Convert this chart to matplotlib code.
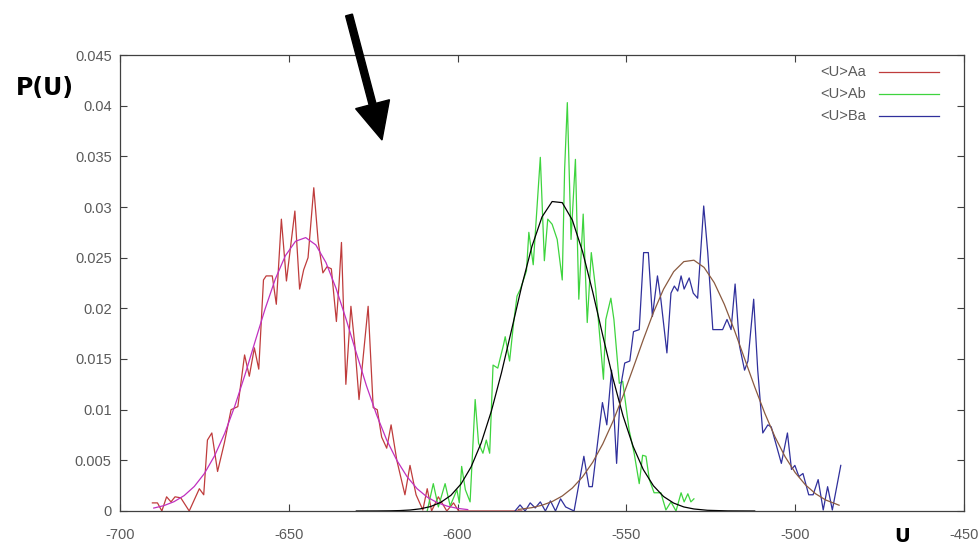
import matplotlib
matplotlib.use("Agg")
import matplotlib.pyplot as plt
from matplotlib.patches import FancyArrow
from matplotlib.transforms import IdentityTransform

# ---------------- data ----------------
aa_u = [-690.4, -688.9, -687.6, -686.2, -684.9, -683.7, -682.0, -679.5, -676.5, -675.2,
        -674.1, -672.8, -671.1, -669.1, -667.1, -665.1, -663.1, -661.7, -660.2, -658.9,
        -657.5, -656.7, -654.9, -653.7, -652.2, -650.7, -648.2, -646.8, -645.6, -644.3,
        -642.6, -641.3, -639.9, -638.7, -637.4, -635.9, -635.1, -634.4, -633.1, -631.6,
        -630.4, -629.2, -626.5, -625.0, -623.8, -622.5, -621.0, -619.7, -618.0, -615.6,
        -614.1, -612.3, -610.3, -609.0, -607.7, -605.7, -603.2, -601.2, -599.7, -581.0]
aa_p = [0.0008, 0.0008, 0.0000, 0.0014, 0.0009, 0.0014, 0.0013, 0.0000, 0.0022, 0.0016,
        0.0070, 0.0077, 0.0039, 0.0067, 0.0100, 0.0103, 0.0154, 0.0133, 0.0161, 0.0140,
        0.0228, 0.0232, 0.0232, 0.0204, 0.0288, 0.0227, 0.0296, 0.0219, 0.0238, 0.0250,
        0.0319, 0.0266, 0.0235, 0.0241, 0.0239, 0.0187, 0.0225, 0.0265, 0.0125, 0.0202,
        0.0162, 0.0110, 0.0202, 0.0102, 0.0100, 0.0073, 0.0062, 0.0085, 0.0050, 0.0016,
        0.0045, 0.0016, 0.0001, 0.0022, 0.0000, 0.0014, 0.0000, 0.0008, 0.0000, 0.0000]

ab_u = [-609.0, -607.2, -605.7, -603.7, -602.2, -600.2, -599.5, -598.8, -597.7, -596.3,
        -594.8, -593.8, -592.5, -591.5, -590.5, -589.5, -588.1, -586.4, -585.9, -584.6,
        -583.4, -582.4, -581.4, -579.6, -578.9, -577.6, -575.5, -574.3, -573.3, -572.0,
        -570.5, -569.0, -568.3, -567.5, -566.4, -565.1, -564.1, -562.8, -561.6, -560.4,
        -559.1, -556.8, -556.1, -554.6, -553.7, -552.1, -551.1, -549.2, -547.7, -546.2,
        -545.2, -544.2, -543.2, -541.8, -539.8, -538.3, -536.8, -535.3, -533.8, -532.9,
        -531.8, -530.9, -530.0]
ab_p = [0.0000, 0.0027, 0.0004, 0.0027, 0.0005, 0.0021, 0.0008, 0.0044, 0.0021, 0.0009,
        0.0110, 0.0067, 0.0057, 0.0070, 0.0057, 0.0144, 0.0141, 0.0164, 0.0172, 0.0148,
        0.0186, 0.0212, 0.0219, 0.0237, 0.0275, 0.0243, 0.0349, 0.0247, 0.0288, 0.0283,
        0.0268, 0.0228, 0.0337, 0.0403, 0.0268, 0.0347, 0.0209, 0.0293, 0.0186, 0.0255,
        0.0219, 0.0130, 0.0189, 0.0210, 0.0189, 0.0126, 0.0128, 0.0080, 0.0057, 0.0027,
        0.0055, 0.0054, 0.0031, 0.0018, 0.0018, 0.0001, 0.0009, 0.0000, 0.0018, 0.0009,
        0.0017, 0.0009, 0.0012]

ba_u = [-583.0, -581.5, -580.0, -578.5, -577.0, -575.5, -574.0, -572.5, -571.0, -569.5,
        -568.0, -565.5, -562.6, -561.1, -560.1, -557.1, -555.8, -554.4, -552.9, -551.7,
        -550.5, -549.0, -547.9, -546.2, -544.9, -543.5, -542.3, -540.8, -539.8, -538.0,
        -536.8, -535.8, -534.8, -533.8, -532.9, -531.4, -530.2, -528.9, -527.1, -525.9,
        -524.4, -521.5, -520.2, -519.0, -517.8, -516.5, -515.0, -514.0, -512.3, -511.1,
        -509.6, -508.1, -507.1, -504.1, -502.3, -501.1, -500.1, -498.9, -497.7, -496.0,
        -494.7, -493.2, -491.7, -490.4, -489.0, -486.5]
ba_p = [0.0000, 0.0006, 0.0000, 0.0008, 0.0003, 0.0009, 0.0000, 0.0010, 0.0000, 0.0012,
        0.0004, 0.0000, 0.0054, 0.0024, 0.0024, 0.0107, 0.0085, 0.0139, 0.0047, 0.0123,
        0.0146, 0.0148, 0.0177, 0.0179, 0.0255, 0.0255, 0.0192, 0.0232, 0.0209, 0.0156,
        0.0215, 0.0222, 0.0217, 0.0232, 0.0219, 0.0230, 0.0215, 0.0210, 0.0301, 0.0255,
        0.0179, 0.0179, 0.0189, 0.0179, 0.0224, 0.0163, 0.0139, 0.0148, 0.0209, 0.0139,
        0.0077, 0.0085, 0.0083, 0.0047, 0.0077, 0.0041, 0.0045, 0.0034, 0.0037, 0.0016,
        0.0016, 0.0031, 0.0001, 0.0024, 0.0001, 0.0045]

# fitted curves
fit_aa_u = [-690, -687, -684, -681, -678, -675, -672, -669, -666, -663, -660, -657, -654,
            -651, -648, -645, -642, -639, -636, -633, -630, -627, -624, -621, -618, -615,
            -612, -609, -606, -603, -600, -597]
fit_aa_p = [0.00029, 0.00053, 0.00092, 0.00152, 0.00242, 0.00370, 0.00544, 0.00765,
            0.01035, 0.01342, 0.01671, 0.01996, 0.02289, 0.02520, 0.02662, 0.02698,
            0.02626, 0.02452, 0.02197, 0.01890, 0.01560, 0.01236, 0.00950, 0.00700,
            0.00500, 0.00340, 0.00220, 0.00137, 0.00082, 0.00047, 0.00026, 0.00014]

fit_ab_u = [-630, -624, -620, -617, -614, -611, -608, -605, -602, -599, -596, -593, -590,
            -587, -584, -581, -578, -575, -572, -569, -566, -563, -560, -557, -554, -551,
            -548, -545, -542, -539, -536, -533, -530, -526, -520, -512]
fit_ab_p = [0.0, 0.000005, 0.000018, 0.000044, 0.0001, 0.000216, 0.00044, 0.00085,
            0.00154, 0.00266, 0.00435, 0.00673, 0.00985, 0.01365, 0.01789, 0.02221,
            0.02609, 0.02902, 0.03054, 0.03043, 0.02870, 0.02562, 0.02165, 0.01732,
            0.01311, 0.00939, 0.00637, 0.00409, 0.00249, 0.00143, 0.00078, 0.00040,
            0.00020, 0.00007, 0.000012, 0.0]

fit_ba_u = [-582, -578, -575, -572, -569, -566, -563, -560, -557, -554, -551, -548, -545,
            -542, -539, -536, -533, -530, -527, -524, -521, -518, -515, -512, -509, -506,
            -503, -500, -497, -494, -491, -487]
fit_ba_p = [0.000154, 0.00033, 0.00057, 0.00093, 0.00148, 0.00227, 0.00336, 0.00480,
            0.00662, 0.00883, 0.01135, 0.01410, 0.01691, 0.01958, 0.02189, 0.02362,
            0.02461, 0.02475, 0.02404, 0.02254, 0.02040, 0.01783, 0.01504, 0.01225,
            0.00964, 0.00732, 0.00536, 0.00379, 0.00259, 0.00171, 0.00109, 0.00057]

series_labels = ["<U>Aa", "<U>Ab", "<U>Ba"]
x_ticks = [-700, -650, -600, -550, -500, -450]
y_ticks = [0, 0.005, 0.01, 0.015, 0.02, 0.025, 0.03, 0.035, 0.04, 0.045]
y_tick_labels = ["0", "0.005", "0.01", "0.015", "0.02", "0.025", "0.03", "0.035", "0.04", "0.045"]

# ---------------- figure ----------------
W, H = 980, 545
fig = plt.figure(figsize=(W / 100, H / 100), dpi=100)
fig.patch.set_facecolor("white")
ax = fig.add_axes([120 / W, 1 - 511 / H, (964 - 120) / W, (511 - 55) / H])

c_red = "#bf3c3c"
c_green = "#3ed43e"
c_blue = "#30309c"
c_mag = "#c030c0"
c_brown = "#8a5a40"
lw = 0.9

ax.plot(aa_u, aa_p, color=c_red, lw=lw)
ax.plot(ab_u, ab_p, color=c_green, lw=lw)
ax.plot(ba_u, ba_p, color=c_blue, lw=lw)
ax.plot(fit_aa_u, fit_aa_p, color=c_mag, lw=lw)
ax.plot(fit_ab_u, fit_ab_p, color="black", lw=lw)
ax.plot(fit_ba_u, fit_ba_p, color=c_brown, lw=lw)

ax.set_xlim(-700, -450)
ax.set_ylim(0, 0.045)
ax.set_xticks(x_ticks)
ax.set_xticklabels([str(t) for t in x_ticks])
ax.set_yticks(y_ticks)
ax.set_yticklabels(y_tick_labels)

tick_family = ["Liberation Sans", "DejaVu Sans"]
for lab in ax.get_xticklabels() + ax.get_yticklabels():
    lab.set_fontfamily(tick_family)
    lab.set_fontsize(10.5)
    lab.set_color("#5a5a5a")

ax.tick_params(direction="in", length=5, width=0.8, color="#404040",
               top=True, right=True, pad=6)
ax.tick_params(axis="x", pad=12)
for sp in ax.spines.values():
    sp.set_color("#404040")
    sp.set_linewidth(0.9)

# legend (drawn manually, gnuplot style)
leg_colors = [c_red, c_green, c_blue]
leg_y = [72, 94, 116]
for lab, col, yy in zip(series_labels, leg_colors, leg_y):
    fy = 1 - yy / H
    fig.text(866 / W, fy, lab, ha="right", va="center", color="#5a5a5a",
             family=tick_family, fontsize=10.5)
    fig.add_artist(plt.Line2D([879 / W, 939 / W], [fy, fy], color=col, lw=lw,
                              transform=fig.transFigure))

# axis labels
fig.text(45 / W, 1 - 88 / H, "P(U)", ha="center", va="center", fontsize=17,
         fontweight="bold", family="DejaVu Sans", color="black")
fig.text(902 / W, 1 - 527 / H, "U", ha="center", va="top", fontsize=14,
         fontweight="bold", family="DejaVu Sans", color="black")

# big black arrow
tail = (349, H - 15)
tip = (382, H - 140)
arrow = FancyArrow(tail[0], tail[1], tip[0] - tail[0], tip[1] - tail[1],
                   width=7, head_width=35, head_length=37, length_includes_head=True,
                   color="black", transform=IdentityTransform())
fig.add_artist(arrow)

fig.savefig("out.png", dpi=100, facecolor="white")
